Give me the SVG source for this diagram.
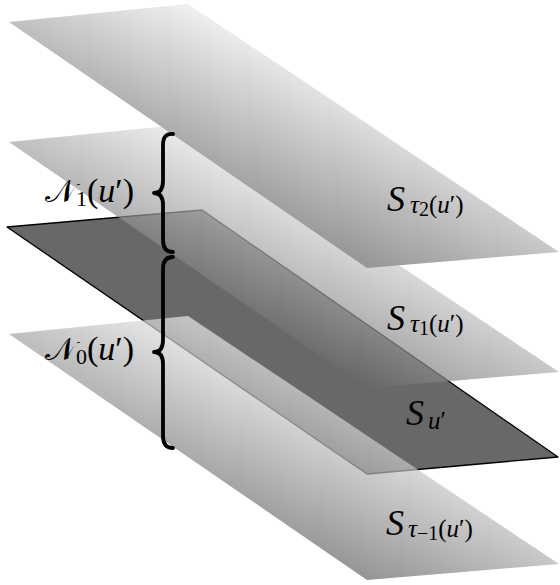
<svg xmlns="http://www.w3.org/2000/svg" width="560" height="585" viewBox="0 0 560 585">
<defs>
<linearGradient id="gT" gradientUnits="userSpaceOnUse" x1="367" y1="246" x2="435.5" y2="94">
<stop offset="0" stop-color="#676767"/>
<stop offset="1" stop-color="#eaeaea"/>
</linearGradient>
<linearGradient id="gO" gradientUnits="userSpaceOnUse" x1="367" y1="246" x2="435.5" y2="94">
<stop offset="0" stop-color="#959595"/>
<stop offset="1" stop-color="#f0f0f0"/>
</linearGradient>
</defs>
<style>
.lbl{font-family:"Liberation Serif","DejaVu Serif",serif;fill:#000}
.it{font-style:italic}
.cal{font-family:"DejaVu Sans","DejaVu Serif","Noto Sans",serif}
.brace{fill:none;stroke:#000;stroke-width:3.8;stroke-linecap:round;stroke-linejoin:round}
.tr{fill:url(#gT);fill-opacity:0.7}
.op{fill:url(#gO)}
</style>
<g id="plane-u">
<path d="M7,227 L202,210 L558,457 L367,474 Z" fill="#686868" stroke="#000" stroke-width="1.3" stroke-linejoin="round"/>
</g>
<g id="plane-tau-minus1" transform="translate(0,334)">
<path class="tr" d="M9,0 L188,-18 L559,230 L367,246 Z"/>
</g>
<g id="plane-tau1" transform="translate(0,142)">
<path class="tr" d="M9,0 L188,-18 L559,230 L367,246 Z"/>
</g>
<g id="plane-tau2" transform="translate(0,22)">
<path class="op" d="M9,0 L188,-18 L559,230 L367,246 Z"/>
</g>
<g id="braces">
<path class="brace" d="M173,134 Q163,133 163,145 L163,181 Q163,193 154,193 Q163,193 163,205 L163,240 Q163,252 173,252"/>
<path class="brace" d="M173,257 Q163,257 163,269 L163,340 Q163,352 154,352 Q163,352 163,364 L163,436 Q163,448 173,448"/>
</g>
<g id="labels">
<text class="lbl" x="45" y="202"><tspan class="cal" font-size="32">𝒩</tspan><tspan x="76" dy="4" font-size="22">1</tspan><tspan x="87" dy="-4" font-size="34">(</tspan><tspan class="it" font-size="34">u</tspan><tspan font-size="34">′)</tspan></text>
<text class="lbl" x="45" y="360"><tspan class="cal" font-size="32">𝒩</tspan><tspan x="76" dy="4" font-size="22">0</tspan><tspan x="87" dy="-4" font-size="34">(</tspan><tspan class="it" font-size="34">u</tspan><tspan font-size="34">′)</tspan></text>
<text class="lbl" x="387" y="211"><tspan class="it" font-size="36">S</tspan><tspan x="410" dy="2" class="it" font-size="25">τ</tspan><tspan font-size="20" dy="3">2</tspan><tspan font-size="25" dy="-3">(</tspan><tspan class="it" font-size="25">u</tspan><tspan font-size="25">′)</tspan></text>
<text class="lbl" x="387" y="330"><tspan class="it" font-size="36">S</tspan><tspan x="410" dy="2" class="it" font-size="25">τ</tspan><tspan font-size="20" dy="3">1</tspan><tspan font-size="25" dy="-3">(</tspan><tspan class="it" font-size="25">u</tspan><tspan font-size="25">′)</tspan></text>
<text class="lbl" x="406" y="425"><tspan class="it" font-size="36">S</tspan><tspan x="428" dy="4" class="it" font-size="25">u</tspan><tspan font-size="25">′</tspan></text>
<text class="lbl" x="386" y="535"><tspan class="it" font-size="36">S</tspan><tspan x="408" dy="2" class="it" font-size="25">τ</tspan><tspan font-size="20" dy="3">−1</tspan><tspan font-size="25" dy="-3">(</tspan><tspan class="it" font-size="25">u</tspan><tspan font-size="25">′)</tspan></text>
</g>
</svg>
